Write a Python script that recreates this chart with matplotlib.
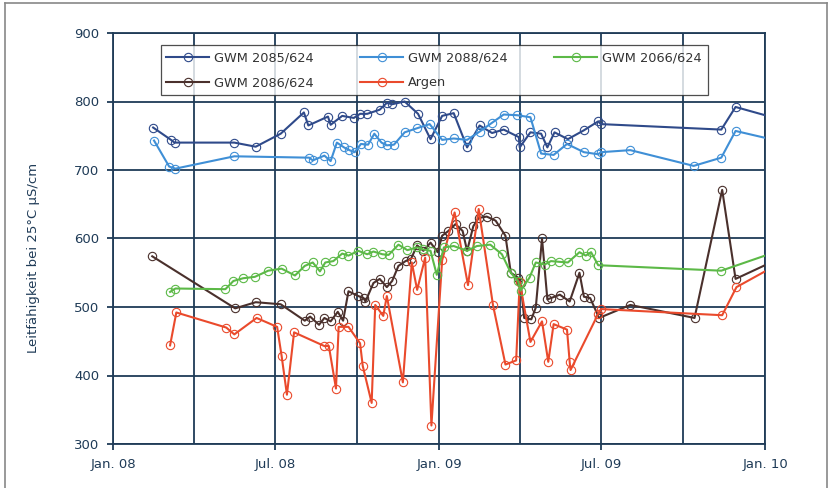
import numpy as np
import pandas as pd
import matplotlib
matplotlib.use("Agg")
import matplotlib.pyplot as plt
import matplotlib.dates as mdates
from matplotlib.lines import Line2D

plt.rcParams['font.family'] = ['DejaVu Sans']

# GWM 2085/624
d_2085 = ['2008-02-15', '2008-03-06', '2008-03-10', '2008-05-16', '2008-06-09', '2008-07-07',
          '2008-08-02', '2008-08-07', '2008-08-29', '2008-09-01', '2008-09-14', '2008-09-27',
          '2008-10-04', '2008-10-12', '2008-10-26', '2008-11-03', '2008-11-09', '2008-11-23',
          '2008-12-08', '2008-12-22', '2009-01-04', '2009-01-17', '2009-02-01', '2009-02-15',
          '2009-03-01', '2009-03-14', '2009-03-31', '2009-04-01', '2009-04-13', '2009-04-25',
          '2009-05-02', '2009-05-10', '2009-05-25', '2009-06-12', '2009-06-28', '2009-07-01',
          '2009-11-13', '2009-11-29', '2010-01-01']
v_2085 = [762, 744, 740, 740, 734, 753, 784, 765, 778, 766, 779, 776, 782, 782, 788, 798, 796,
          800, 782, 745, 779, 783, 733, 765, 754, 759, 748, 733, 755, 753, 733, 755, 745, 758,
          771, 767, 759, 792, 780]

# GWM 2088/624
d_2088 = ['2008-02-16', '2008-03-04', '2008-03-11', '2008-05-16', '2008-08-08', '2008-08-12',
          '2008-08-25', '2008-09-01', '2008-09-08', '2008-09-16', '2008-09-22', '2008-09-28',
          '2008-10-05', '2008-10-13', '2008-10-20', '2008-10-28', '2008-11-03', '2008-11-11',
          '2008-11-23', '2008-12-07', '2008-12-21', '2009-01-04', '2009-01-17', '2009-02-01',
          '2009-02-15', '2009-03-01', '2009-03-14', '2009-03-29', '2009-04-13', '2009-04-25',
          '2009-05-09', '2009-05-24', '2009-06-12', '2009-06-28', '2009-07-01', '2009-08-03',
          '2009-10-13', '2009-11-13', '2009-11-29', '2010-01-01']
v_2088 = [743, 705, 702, 720, 718, 714, 721, 713, 740, 733, 729, 726, 738, 737, 753, 740, 736,
          737, 755, 761, 767, 744, 746, 744, 756, 769, 781, 780, 777, 724, 722, 738, 726, 723,
          726, 729, 706, 718, 757, 747]

# GWM 2066/624
d_2066 = ['2008-03-05', '2008-03-11', '2008-05-06', '2008-05-15', '2008-05-26', '2008-06-08',
          '2008-06-23', '2008-07-08', '2008-07-23', '2008-08-03', '2008-08-12', '2008-08-20',
          '2008-08-26', '2008-09-04', '2008-09-14', '2008-09-21', '2008-10-02', '2008-10-12',
          '2008-10-19', '2008-10-29', '2008-11-05', '2008-11-16', '2008-11-26', '2008-12-07',
          '2008-12-14', '2008-12-22', '2008-12-29', '2009-01-06', '2009-01-17', '2009-02-01',
          '2009-02-12', '2009-02-27', '2009-03-12', '2009-03-22', '2009-03-30', '2009-04-02',
          '2009-04-12', '2009-04-19', '2009-04-29', '2009-05-06', '2009-05-15', '2009-05-25',
          '2009-06-07', '2009-06-14', '2009-06-20', '2009-06-28', '2009-11-13', '2010-01-01']
v_2066 = [522, 527, 526, 538, 542, 544, 553, 556, 546, 560, 565, 552, 565, 567, 578, 575, 582,
          577, 581, 577, 576, 591, 583, 587, 584, 582, 547, 587, 589, 582, 589, 591, 577, 550,
          538, 524, 543, 565, 562, 567, 566, 565, 580, 575, 580, 561, 553, 575]

# GWM 2086/624
d_2086 = ['2008-02-14', '2008-05-17', '2008-06-09', '2008-07-07', '2008-08-03', '2008-08-09',
          '2008-08-19', '2008-08-25', '2008-09-01', '2008-09-09', '2008-09-15', '2008-09-21',
          '2008-10-02', '2008-10-08', '2008-10-10', '2008-10-19', '2008-10-26', '2008-11-03',
          '2008-11-09', '2008-11-16', '2008-11-24', '2008-11-30', '2008-12-07', '2008-12-14',
          '2008-12-22', '2008-12-30', '2009-01-04', '2009-01-11', '2009-01-19', '2009-01-27',
          '2009-02-01', '2009-02-08', '2009-02-14', '2009-02-23', '2009-03-05', '2009-03-16',
          '2009-03-22', '2009-03-30', '2009-04-02', '2009-04-06', '2009-04-14', '2009-04-19',
          '2009-04-26', '2009-05-02', '2009-05-06', '2009-05-16', '2009-05-27', '2009-06-07',
          '2009-06-12', '2009-06-19', '2009-06-29', '2009-08-03', '2009-10-14', '2009-11-14',
          '2009-11-29', '2010-01-01']
v_2086 = [574, 498, 507, 504, 480, 486, 474, 484, 479, 493, 480, 523, 516, 513, 508, 535, 541,
          529, 538, 560, 567, 570, 590, 582, 594, 580, 604, 611, 621, 611, 582, 618, 630, 632,
          626, 604, 550, 543, 535, 484, 482, 499, 600, 511, 513, 518, 508, 550, 515, 513, 484,
          503, 484, 671, 541, 561]

# Argen
d_argen = ['2008-03-05', '2008-03-12', '2008-05-07', '2008-05-16', '2008-06-10', '2008-07-03',
           '2008-07-08', '2008-07-14', '2008-07-22', '2008-08-25', '2008-08-30', '2008-09-07',
           '2008-09-10', '2008-09-21', '2008-10-04', '2008-10-07', '2008-10-17', '2008-10-21',
           '2008-10-30', '2008-11-03', '2008-11-21', '2008-12-01', '2008-12-07', '2008-12-16',
           '2008-12-23', '2009-01-04', '2009-01-18', '2009-02-02', '2009-02-14', '2009-03-02',
           '2009-03-16', '2009-03-28', '2009-04-01', '2009-04-13', '2009-04-26', '2009-05-03',
           '2009-05-09', '2009-05-24', '2009-05-27', '2009-05-28', '2009-06-28', '2009-07-01',
           '2009-11-14', '2009-11-30', '2010-01-01']
v_argen = [444, 492, 470, 460, 484, 471, 429, 372, 463, 443, 443, 381, 471, 471, 447, 414, 360,
           503, 487, 516, 390, 565, 525, 572, 327, 568, 638, 532, 643, 503, 416, 422, 537, 449,
           479, 420, 475, 467, 420, 408, 490, 497, 488, 529, 552]

series = [
    ('GWM 2085/624', d_2085, v_2085, '#2f4a8a'),
    ('GWM 2086/624', d_2086, v_2086, '#4a302c'),
    ('GWM 2088/624', d_2088, v_2088, '#3f8fd6'),
    ('Argen', d_argen, v_argen, '#ea4a2c'),
    ('GWM 2066/624', d_2066, v_2066, '#5cb947'),
]

navy = '#1f3b57'

fig = plt.figure(figsize=(8.32, 4.88), dpi=100)
ax = fig.add_axes([113 / 832, 1 - 444 / 488, 652 / 832, 411 / 488])

handles = []
for name, d, v, c in series:
    x = pd.to_datetime(d)
    # last point sits on the Jan. 10 border without marker
    ax.plot(x, v, color=c, lw=1.5, marker='o', ms=6, mfc='none', mec=c, mew=0.8,
            markevery=list(range(len(v) - 1)), zorder=3)
    handles.append(Line2D([], [], color=c, lw=1.5, marker='o', ms=6, mfc='none', mec=c,
                          mew=0.8, label=name))

ax.set_xlim(pd.Timestamp('2008-01-01'), pd.Timestamp('2010-01-01'))
ax.set_ylim(300, 900)
ax.set_yticks(np.arange(300, 901, 100))

ax.xaxis.set_major_locator(mdates.MonthLocator(bymonth=[1, 7]))
ax.xaxis.set_minor_locator(mdates.MonthLocator(bymonth=[4, 10]))
ax.xaxis.set_major_formatter(mdates.DateFormatter('%b. %y'))

ax.grid(True, which='major', color=navy, lw=1.3)
ax.grid(True, which='minor', axis='x', color=navy, lw=1.3)
ax.set_axisbelow(True)
for s in ax.spines.values():
    s.set_color(navy)
    s.set_linewidth(1.3)
ax.tick_params(axis='both', which='major', colors=navy, labelsize=9.5, length=4, width=1.3)
ax.tick_params(axis='x', which='minor', length=0)
ax.tick_params(axis='x', pad=6)
ax.tick_params(axis='y', pad=6)

ax.set_ylabel('Leitfähigkeit bei 25°C µS/cm', color=navy, fontsize=9.5)
ax.yaxis.set_label_coords(-0.112, 0.453)

leg = ax.legend(handles=handles, ncol=3, loc='upper left',
                bbox_to_anchor=(0.073, 0.97, 0.839, 0.0), mode='expand', borderaxespad=0,
                fontsize=9.3, frameon=True, fancybox=False, edgecolor='#222222',
                handlelength=3.3, numpoints=1, borderpad=0.45, labelspacing=0.95,
                handletextpad=0.4, columnspacing=1.0)
leg.get_frame().set_linewidth(0.9)
for t in leg.get_texts():
    t.set_color('#333333')

# outer frame of the figure
fig.add_artist(Line2D([5 / 832, 5 / 832], [0, 1 - 3 / 488], transform=fig.transFigure,
                      color='#888888', lw=1.2))
fig.add_artist(Line2D([5 / 832, 827 / 832], [1 - 3 / 488, 1 - 3 / 488],
                      transform=fig.transFigure, color='#888888', lw=1.2))
fig.add_artist(Line2D([827 / 832, 827 / 832], [0, 1 - 3 / 488], transform=fig.transFigure,
                      color='#888888', lw=1.2))

fig.savefig('out.png', dpi=100)
